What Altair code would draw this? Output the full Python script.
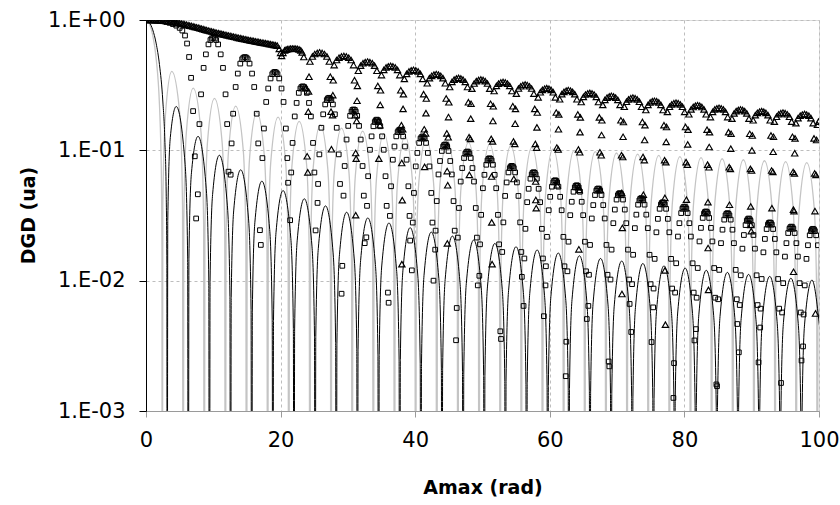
import altair as alt
import pandas as pd

# ---- black curve (thin black line) ----
black_x = [0, 0.5, 1.0, 1.5, 2.0, 2.5, 2.8, 3.0, 3.1,
           3.142, 3.236, 3.613, 4.49, 5.812, 6.189,
           6.283, 6.377, 6.754, 7.73, 8.953, 9.33,
           9.425, 9.519, 9.896, 10.9, 12.095, 12.472,
           12.566, 12.66, 13.037, 14.07, 15.236, 15.613,
           15.708, 15.802, 16.179, 17.22, 18.378, 18.755,
           18.85, 18.944, 19.321, 20.37, 21.52, 21.897,
           21.991, 22.085, 22.462, 23.52, 24.661, 25.038,
           25.133, 25.227, 25.604, 26.67, 27.803, 28.18,
           28.274, 28.368, 28.745, 29.81, 30.944, 31.321,
           31.416, 31.51, 31.887, 32.96, 34.086, 34.463,
           34.558, 34.652, 35.029, 36.1, 37.228, 37.605,
           37.699, 37.793, 38.17, 39.25, 40.369, 40.746,
           40.841, 40.935, 41.312, 42.39, 43.511, 43.888,
           43.982, 44.076, 44.453, 45.53, 46.652, 47.029,
           47.124, 47.218, 47.595, 48.69, 49.794, 50.171,
           50.265, 50.359, 50.736, 51.84, 52.935, 53.312,
           53.407, 53.501, 53.878, 54.98, 56.077, 56.454,
           56.549, 56.643, 57.02, 58.12, 59.219, 59.596,
           59.69, 59.784, 60.161, 61.26, 62.36, 62.737,
           62.832, 62.926, 63.303, 64.4, 65.502, 65.879,
           65.973, 66.067, 66.444, 67.54, 68.643, 69.02,
           69.115, 69.209, 69.586, 70.69, 71.785, 72.162,
           72.257, 72.351, 72.728, 73.83, 74.927, 75.304,
           75.398, 75.492, 75.869, 76.97, 78.068, 78.445,
           78.54, 78.634, 79.011, 80.11, 81.21, 81.587,
           81.681, 81.775, 82.152, 83.25, 84.351, 84.728,
           84.823, 84.917, 85.294, 86.39, 87.493, 87.87,
           87.965, 88.059, 88.436, 89.54, 90.635, 91.012,
           91.106, 91.2, 91.577, 92.68, 93.776, 94.153,
           94.248, 94.342, 94.719, 95.82, 96.918, 97.295,
           97.389, 97.483, 97.86, 98.96, 100.06]
black_y = [1, 0.959, 0.841, 0.665, 0.455, 0.239, 0.120, 0.047, 0.0134,
           1e-6, 0.029, 0.1257, 0.217, 0.0781, 0.0152,
           1e-6, 0.01474, 0.0672, 0.128, 0.0507, 0.01008,
           1e-6, 0.00988, 0.0459, 0.0917, 0.0375, 0.00754,
           1e-6, 0.00742, 0.0348, 0.0709, 0.0298, 0.00602,
           1e-6, 0.00595, 0.0281, 0.058, 0.0247, 0.00501,
           1e-6, 0.00496, 0.0235, 0.0491, 0.0211, 0.00429,
           1e-6, 0.00426, 0.0202, 0.0425, 0.0184, 0.00375,
           1e-6, 0.00373, 0.0177, 0.0375, 0.01633, 0.00334,
           1e-6, 0.00331, 0.0158, 0.0335, 0.01467, 0.003,
           1e-6, 0.00298, 0.01424, 0.0303, 0.01332, 0.00273,
           1e-6, 0.00271, 0.01296, 0.0277, 0.0122, 0.0025,
           1e-6, 0.00249, 0.01189, 0.0255, 0.01125, 0.00231,
           1e-6, 0.0023, 0.01099, 0.0236, 0.01043, 0.00214,
           1e-6, 0.00213, 0.01021, 0.022, 0.00973, 0.002,
           1e-6, 0.00199, 0.00954, 0.0205, 0.00912, 0.00187,
           1e-6, 0.00187, 0.00895, 0.0193, 0.00858, 0.00176,
           1e-6, 0.00176, 0.00843, 0.0182, 0.0081, 0.00167,
           1e-6, 0.00166, 0.00796, 0.0172, 0.00767, 0.00158,
           1e-6, 0.00157, 0.00755, 0.0163, 0.00728, 0.0015,
           1e-6, 0.00149, 0.00717, 0.01553, 0.00693, 0.00143,
           1e-6, 0.00142, 0.00683, 0.01481, 0.00661, 0.00136,
           1e-6, 0.00136, 0.00652, 0.01415, 0.00632, 0.0013,
           1e-6, 0.0013, 0.00624, 0.01354, 0.00606, 0.00125,
           1e-6, 0.00125, 0.00598, 0.01299, 0.00582, 0.0012,
           1e-6, 0.0012, 0.00575, 0.01248, 0.00559, 0.00115,
           1e-6, 0.00115, 0.00553, 0.01201, 0.00538, 0.00111,
           1e-6, 0.00111, 0.00532, 0.01158, 0.00519, 0.00107,
           1e-6, 0.00107, 0.00513, 0.01117, 0.00501, 0.00103,
           1e-6, 0.00103, 0.00496, 0.01079, 0.00484, 0.001,
           1e-6, 0.001, 0.00479, 0.01044, 0.00468, 0.00097,
           1e-6, 0.00097, 0.00464, 0.01011, 0.00454]

# ---- grey curve (thin light grey line) ----
gray_x = [0, 0.5, 1.0, 1.5, 2.0, 2.2, 2.3, 2.37,
          2.405, 2.499, 2.876, 3.832, 5.049, 5.426,
          5.52, 5.614, 5.991, 7.016, 8.183, 8.56,
          8.654, 8.748, 9.125, 10.173, 11.321, 11.698,
          11.792, 11.886, 12.263, 13.324, 14.46, 14.837,
          14.931, 15.025, 15.402, 16.47, 17.6, 17.977,
          18.071, 18.165, 18.542, 19.62, 20.741, 21.118,
          21.212, 21.306, 21.683, 22.76, 23.881, 24.258,
          24.352, 24.446, 24.823, 25.9, 27.022, 27.399,
          27.493, 27.587, 27.964, 29.05, 30.164, 30.541,
          30.635, 30.729, 31.106, 32.19, 33.305, 33.682,
          33.776, 33.87, 34.247, 35.35, 36.447, 36.824,
          36.918, 37.012, 37.389, 38.49, 39.588, 39.965,
          40.059, 40.153, 40.53, 41.63, 42.73, 43.107,
          43.201, 43.295, 43.672, 44.77, 45.872, 46.249,
          46.343, 46.437, 46.814, 47.91, 49.014, 49.391,
          49.485, 49.579, 49.956, 51.06, 52.155, 52.532,
          52.626, 52.72, 53.097, 54.2, 55.297, 55.674,
          55.768, 55.862, 56.239, 57.34, 58.439, 58.816,
          58.91, 59.004, 59.381, 60.48, 61.58, 61.957,
          62.051, 62.145, 62.522, 63.62, 64.722, 65.099,
          65.193, 65.287, 65.664, 66.76, 67.864, 68.241,
          68.335, 68.429, 68.806, 69.91, 71.006, 71.383,
          71.477, 71.571, 71.948, 73.05, 74.147, 74.524,
          74.618, 74.712, 75.089, 76.19, 77.289, 77.666,
          77.76, 77.854, 78.231, 79.33, 80.431, 80.808,
          80.902, 80.996, 81.373, 82.47, 83.572, 83.949,
          84.043, 84.137, 84.514, 85.61, 86.714, 87.091,
          87.185, 87.279, 87.656, 88.76, 89.856, 90.233,
          90.327, 90.421, 90.798, 91.9, 92.998, 93.375,
          93.469, 93.563, 93.94, 95.04, 96.139, 96.516,
          96.61, 96.704, 97.081, 98.18, 99.281, 99.658,
          99.752, 99.846, 100.223]
gray_y = [1, 0.938, 0.765, 0.512, 0.224, 0.110, 0.0555, 0.018,
          1e-6, 0.0379, 0.183, 0.403, 0.183, 0.0379,
          1e-6, 0.0282, 0.136, 0.300, 0.136, 0.0282,
          1e-6, 0.0235, 0.1135, 0.25, 0.1135, 0.0235,
          1e-6, 0.0205, 0.099, 0.218, 0.099, 0.0205,
          1e-6, 0.0184, 0.089, 0.196, 0.089, 0.0184,
          1e-6, 0.0169, 0.0817, 0.18, 0.0817, 0.0169,
          1e-6, 0.0157, 0.0758, 0.167, 0.0758, 0.0157,
          1e-6, 0.01476, 0.0713, 0.157, 0.0713, 0.01476,
          1e-6, 0.0139, 0.0672, 0.148, 0.0672, 0.0139,
          1e-6, 0.01322, 0.0638, 0.1406, 0.0638, 0.01322,
          1e-6, 0.01261, 0.0609, 0.1342, 0.0609, 0.01261,
          1e-6, 0.01209, 0.0584, 0.1286, 0.0584, 0.01209,
          1e-6, 0.01163, 0.0562, 0.1237, 0.0562, 0.01163,
          1e-6, 0.01121, 0.0542, 0.1193, 0.0542, 0.01121,
          1e-6, 0.01084, 0.0523, 0.1153, 0.0523, 0.01084,
          1e-6, 0.0105, 0.0507, 0.1117, 0.0507, 0.0105,
          1e-6, 0.01019, 0.0492, 0.1084, 0.0492, 0.01019,
          1e-6, 0.00991, 0.0479, 0.1054, 0.0479, 0.00991,
          1e-6, 0.00964, 0.0466, 0.1026, 0.0466, 0.00964,
          1e-6, 0.0094, 0.0454, 0.1, 0.0454, 0.0094,
          1e-6, 0.00918, 0.0444, 0.0977, 0.0444, 0.00918,
          1e-6, 0.00897, 0.0433, 0.0954, 0.0433, 0.00897,
          1e-6, 0.00878, 0.0424, 0.0934, 0.0424, 0.00878,
          1e-6, 0.00859, 0.0415, 0.0914, 0.0415, 0.00859,
          1e-6, 0.00842, 0.0407, 0.0896, 0.0407, 0.00842,
          1e-6, 0.00826, 0.0399, 0.0879, 0.0399, 0.00826,
          1e-6, 0.0081, 0.0391, 0.0862, 0.0391, 0.0081,
          1e-6, 0.00796, 0.0385, 0.0847, 0.0385, 0.00796,
          1e-6, 0.00782, 0.0378, 0.0832, 0.0378, 0.00782,
          1e-6, 0.0077, 0.0372, 0.0819, 0.0372, 0.0077,
          1e-6, 0.00757, 0.0365, 0.0805, 0.0365, 0.00757,
          1e-6, 0.00745, 0.036]

# ---- square markers ----
sq_x = [0, 0.5, 1, 1.5, 2, 2.5, 3, 3.5, 4, 4.5, 5, 5.4, 5.8, 6.1, 6.4, 6.7, 7.0, 7.25, 7.45,
        7.7, 8.18, 8.9, 9.57, 10.0, 10.43, 11.1, 11.82, 12.26,
        12.58, 12.95, 13.64, 14.29, 14.7, 15.11, 15.76, 16.45, 16.93,
        17.06, 17.52, 18.16, 18.76, 19.15, 19.54, 20.14, 20.78, 21.11,
        21.42, 21.78, 22.38, 22.94, 23.3, 23.66, 24.22, 24.82, 25.2,
        25.49, 25.76, 26.33, 26.86, 27.2, 27.54, 28.07, 28.64, 29.06,
        29.17, 29.52, 30.05, 30.54, 30.85, 31.17, 31.66, 32.18, 32.5,
        32.74, 33.01, 33.52, 33.99, 34.3, 34.61, 35.08, 35.59, 35.95,
        36.05, 36.41, 36.92, 37.39, 37.7, 38.01, 38.48, 38.99, 39.25,
        39.5, 39.81, 40.32, 40.79, 41.1, 41.41, 41.88, 42.39, 42.72,
        42.97, 43.2, 43.69, 44.15, 44.45, 44.75, 45.21, 45.7, 46.07,
        46.17, 46.5, 46.99, 47.45, 47.75, 48.05, 48.51, 49.0, 49.3,
        49.53, 49.8, 50.29, 50.75, 51.05, 51.35, 51.81, 52.3, 52.65,
        52.75, 53.1, 53.59, 54.05, 54.35, 54.65, 55.11, 55.6, 55.85,
        56.1, 56.38, 56.86, 57.31, 57.6, 57.89, 58.34, 58.82, 59.12,
        59.36, 59.58, 60.06, 60.51, 60.8, 61.09, 61.54, 62.02, 62.37,
        62.46, 62.78, 63.26, 63.71, 64.0, 64.29, 64.74, 65.22, 65.5,
        65.73, 65.98, 66.46, 66.91, 67.2, 67.49, 67.94, 68.42, 68.75,
        68.85, 69.18, 69.66, 70.11, 70.4, 70.69, 71.14, 71.62, 71.86,
        72.1, 72.38, 72.86, 73.31, 73.6, 73.89, 74.34, 74.82, 75.12,
        75.36, 75.58, 76.06, 76.51, 76.8, 77.09, 77.54, 78.02, 78.37,
        78.46, 78.78, 79.26, 79.71, 80.0, 80.29, 80.74, 81.22, 81.5,
        81.73, 81.98, 82.46, 82.91, 83.2, 83.49, 83.94, 84.42, 84.75,
        84.85, 85.18, 85.66, 86.11, 86.4, 86.69, 87.14, 87.62, 87.86,
        88.09, 88.37, 88.84, 89.27, 89.55, 89.83, 90.26, 90.73, 91.02,
        91.26, 91.48, 91.96, 92.41, 92.7, 92.99, 93.44, 93.92, 94.27,
        94.36, 94.68, 95.16, 95.61, 95.9, 96.19, 96.64, 97.12, 97.4,
        97.63, 97.88, 98.36, 98.81, 99.1, 99.39, 99.84]
sq_y = [1, 0.999, 0.997, 0.993, 0.987, 0.978, 0.966, 0.95, 0.93, 0.905, 0.87, 0.83, 0.76, 0.66, 0.52, 0.36, 0.2, 0.09, 0.03,
        0.046, 0.269, 0.545, 0.702, 0.73, 0.702, 0.545, 0.269, 0.0686,
        0.065, 0.191, 0.388, 0.5, 0.52, 0.5, 0.388, 0.191, 0.0244,
        0.0188, 0.147, 0.298, 0.384, 0.4, 0.384, 0.298, 0.147, 0.0564,
        0.0291, 0.114, 0.231, 0.298, 0.31, 0.298, 0.231, 0.114, 0.0243,
        0.0395, 0.0931, 0.189, 0.243, 0.253, 0.243, 0.189, 0.0931, 0.00794,
        0.013, 0.0758, 0.154, 0.198, 0.206, 0.198, 0.154, 0.0758, 0.0194,
        0.0215, 0.0633, 0.128, 0.165, 0.172, 0.165, 0.128, 0.0633, 0.0081,
        0.00677, 0.053, 0.107, 0.138, 0.144, 0.138, 0.107, 0.053, 0.0203,
        0.012, 0.0471, 0.0955, 0.123, 0.128, 0.123, 0.0955, 0.0471, 0.01,
        0.0173, 0.0408, 0.0828, 0.1067, 0.111, 0.1067, 0.0828, 0.0408, 0.00349,
        0.00617, 0.0361, 0.0731, 0.0942, 0.098, 0.0942, 0.0731, 0.0361, 0.0092,
        0.0109, 0.032, 0.0649, 0.0836, 0.087, 0.0836, 0.0649, 0.032, 0.00409,
        0.00357, 0.028, 0.0567, 0.073, 0.076, 0.073, 0.0567, 0.028, 0.0107,
        0.0064, 0.025, 0.0507, 0.0653, 0.068, 0.0653, 0.0507, 0.025, 0.00534,
        0.0092, 0.0217, 0.044, 0.0567, 0.059, 0.0567, 0.044, 0.0217, 0.00185,
        0.0034, 0.0199, 0.0403, 0.0519, 0.054, 0.0519, 0.0403, 0.0199, 0.00508,
        0.0064, 0.0188, 0.038, 0.049, 0.051, 0.049, 0.038, 0.0188, 0.0024,
        0.0022, 0.0173, 0.0351, 0.0452, 0.047, 0.0452, 0.0351, 0.0173, 0.00663,
        0.00404, 0.0158, 0.0321, 0.0413, 0.043, 0.0413, 0.0321, 0.0158, 0.00338,
        0.00624, 0.0147, 0.0298, 0.0384, 0.04, 0.0384, 0.0298, 0.0147, 0.00126,
        0.00233, 0.0136, 0.0276, 0.0356, 0.037, 0.0356, 0.0276, 0.0136, 0.00348,
        0.00425, 0.0125, 0.0254, 0.0327, 0.034, 0.0327, 0.0254, 0.0125, 0.0016,
        0.00155, 0.0121, 0.0246, 0.0317, 0.033, 0.0317, 0.0246, 0.0121, 0.00465,
        0.00282, 0.011, 0.0224, 0.0288, 0.03, 0.0288, 0.0224, 0.011, 0.00236,
        0.00437, 0.0103, 0.0209, 0.0269, 0.028, 0.0269, 0.0209, 0.0103, 0.00088,
        0.00164, 0.00957, 0.0194, 0.025, 0.026, 0.025, 0.0194, 0.00957, 0.00244,
        0.00313, 0.0092, 0.0187, 0.024, 0.025, 0.024, 0.0187]

# extra square readings near the tops of the square arches
sq_cap_x = [8.56, 9.28, 9.76, 10.24, 10.72, 11.44,
            13.32, 14.01, 14.47, 14.93, 15.39, 16.08,
            17.86, 18.51, 18.94, 19.37, 19.8, 20.44,
            22.1, 22.7, 23.1, 23.5, 23.9, 24.5,
            26.06, 26.63, 27.01, 27.39, 27.77, 28.34,
            29.8, 30.33, 30.68, 31.03, 31.38, 31.9,
            33.28, 33.79, 34.13, 34.47, 34.81, 35.32,
            36.68, 37.19, 37.53, 37.87, 38.21, 38.72,
            40.08, 40.59, 40.93, 41.27, 41.61, 42.12,
            43.46, 43.96, 44.29, 44.62, 44.95, 45.44,
            46.76, 47.26, 47.59, 47.92, 48.25, 48.74,
            50.06, 50.56, 50.89, 51.22, 51.55, 52.04,
            53.36, 53.86, 54.19, 54.52, 54.85, 55.34,
            56.64, 57.12, 57.44, 57.76, 58.08, 58.56,
            59.84, 60.32, 60.64, 60.96, 61.28, 61.76,
            63.04, 63.52, 63.84, 64.16, 64.48, 64.96,
            66.24, 66.72, 67.04, 67.36, 67.68, 68.16,
            69.44, 69.92, 70.24, 70.56, 70.88, 71.36,
            72.64, 73.12, 73.44, 73.76, 74.08, 74.56,
            75.84, 76.32, 76.64, 76.96, 77.28, 77.76,
            79.04, 79.52, 79.84, 80.16, 80.48, 80.96,
            82.24, 82.72, 83.04, 83.36, 83.68, 84.16,
            85.44, 85.92, 86.24, 86.56, 86.88, 87.36,
            88.62, 89.09, 89.4, 89.71, 90.02, 90.48,
            91.74, 92.22, 92.54, 92.86, 93.18, 93.66,
            94.94, 95.42, 95.74, 96.06, 96.38, 96.86,
            98.14, 98.62, 98.94, 99.26, 99.58]
sq_cap_y = [0.429, 0.65, 0.721, 0.721, 0.65, 0.429,
            0.306, 0.463, 0.514, 0.514, 0.463, 0.306,
            0.235, 0.356, 0.395, 0.395, 0.356, 0.235,
            0.182, 0.276, 0.306, 0.306, 0.276, 0.182,
            0.149, 0.225, 0.25, 0.25, 0.225, 0.149,
            0.121, 0.184, 0.204, 0.204, 0.184, 0.121,
            0.101, 0.153, 0.17, 0.17, 0.153, 0.101,
            0.0847, 0.128, 0.142, 0.142, 0.128, 0.0847,
            0.0753, 0.114, 0.126, 0.126, 0.114, 0.0753,
            0.0653, 0.0989, 0.1097, 0.1097, 0.0989, 0.0653,
            0.0576, 0.0873, 0.0968, 0.0968, 0.0873, 0.0576,
            0.0512, 0.0775, 0.086, 0.086, 0.0775, 0.0512,
            0.0447, 0.0677, 0.0751, 0.0751, 0.0677, 0.0447,
            0.04, 0.0606, 0.0672, 0.0672, 0.0606, 0.04,
            0.0347, 0.0526, 0.0583, 0.0583, 0.0526, 0.0347,
            0.0318, 0.0481, 0.0534, 0.0534, 0.0481, 0.0318,
            0.03, 0.0454, 0.0504, 0.0504, 0.0454, 0.03,
            0.0276, 0.0419, 0.0464, 0.0464, 0.0419, 0.0276,
            0.0253, 0.0383, 0.0425, 0.0425, 0.0383, 0.0253,
            0.0235, 0.0356, 0.0395, 0.0395, 0.0356, 0.0235,
            0.0218, 0.033, 0.0366, 0.0366, 0.033, 0.0218,
            0.02, 0.0303, 0.0336, 0.0336, 0.0303, 0.02,
            0.0194, 0.0294, 0.0326, 0.0326, 0.0294, 0.0194,
            0.0176, 0.0267, 0.0296, 0.0296, 0.0267, 0.0176,
            0.0165, 0.0249, 0.0277, 0.0277, 0.0249, 0.0165,
            0.0153, 0.0232, 0.0257, 0.0257, 0.0232, 0.0153,
            0.0147, 0.0223, 0.0247, 0.0247, 0.0223]

# extra square readings in the dips
sq_dip_x = [7.94, 12.06, 12.72, 16.68, 17.3, 21.0, 21.58, 25.02, 25.57, 28.83,
            29.35, 32.36, 32.84, 35.76, 36.24, 39.16, 39.64, 42.56, 43.03, 45.87,
            46.33, 49.17, 49.63, 52.47, 52.93, 55.77, 56.22, 58.98, 59.42, 62.18,
            62.62, 65.38, 65.82, 68.58, 69.02, 71.78, 72.22, 74.98, 75.42, 78.18,
            78.62, 81.38, 81.82, 84.58, 85.02, 87.78, 88.22, 90.88, 91.32, 94.08,
            94.52, 97.28, 97.72]
sq_dip_y = [0.159, 0.159, 0.113, 0.113, 0.0872, 0.0872, 0.0676, 0.0676, 0.0552, 0.0552,
            0.0449, 0.0449, 0.0375, 0.0375, 0.0314, 0.0314, 0.0279, 0.0279, 0.0242, 0.0242,
            0.0214, 0.0214, 0.019, 0.019, 0.0166, 0.0166, 0.0148, 0.0148, 0.0129, 0.0129,
            0.0118, 0.0118, 0.0111, 0.0111, 0.0102, 0.0102, 0.0094, 0.0094, 0.0087, 0.0087,
            0.0081, 0.0081, 0.0074, 0.0074, 0.0072, 0.0072, 0.0065, 0.0065, 0.0061, 0.0061,
            0.0057, 0.0057, 0.0055]

# ---- triangle markers: smooth upper band (x < 24) ----
tri_x = [0, 0.5, 1, 1.5, 2, 2.5, 3, 3.5, 4, 4.5, 5, 5.5, 6, 6.5, 7, 7.5, 8, 8.5, 9, 9.5,
         10, 10.5, 11, 11.5, 12, 12.5, 13, 13.5, 14, 14.5, 15, 15.5, 16, 16.5, 17, 17.5, 18, 18.5, 19, 19.5,
         19.8, 20.0, 20.15, 20.35, 20.6, 21.0, 21.5, 22.0, 22.5, 23.0, 23.45, 23.75, 23.95]
tri_y = [1.0, 1.0, 0.999, 0.997, 0.995, 0.99, 0.984, 0.975, 0.965, 0.955, 0.944, 0.932, 0.92, 0.906, 0.893,
         0.879, 0.865, 0.851, 0.837, 0.823, 0.81, 0.798, 0.787, 0.776, 0.765, 0.755, 0.745, 0.735, 0.725,
         0.716, 0.707, 0.698, 0.69, 0.682, 0.674, 0.667, 0.66, 0.652, 0.645, 0.635,
         0.6, 0.56, 0.53, 0.56, 0.585, 0.598, 0.603, 0.604, 0.6, 0.585, 0.52, 0.3, 0.09]

tri_band_x = [0.25, 0.75, 1.25, 1.75, 2.25, 2.75, 3.25, 3.75, 4.25, 4.75, 5.25, 5.75, 6.25,
              6.75, 7.25, 7.75, 8.25, 8.75, 9.25, 9.75, 10.25, 10.75, 11.25, 11.75, 12.25,
              12.75, 13.25, 13.75, 14.25, 14.75, 15.25, 15.75, 16.25, 16.75, 17.25, 17.75,
              18.25, 18.75, 19.25, 20.8, 21.25, 21.75, 22.25, 22.75, 23.2]
tri_band_y = [1.0, 0.9995, 0.998, 0.996, 0.9925, 0.987, 0.98, 0.97, 0.96, 0.95, 0.938, 0.926,
              0.913, 0.9, 0.886, 0.872, 0.858, 0.844, 0.83, 0.816, 0.804, 0.792, 0.781, 0.77,
              0.76, 0.75, 0.74, 0.73, 0.72, 0.711, 0.702, 0.694, 0.686, 0.678, 0.67, 0.663,
              0.656, 0.648, 0.64, 0.592, 0.6, 0.604, 0.602, 0.594, 0.565]

# ---- triangle markers: scalloped arches (x > 24) ----
tri_arch_x = [24.04, 24.11, 24.22, 24.36, 24.72, 25.08, 25.44, 25.8, 26.16, 26.52, 26.88, 27.24, 27.38, 27.49,
              27.71, 27.82, 27.96, 28.32, 28.68, 29.04, 29.4, 29.76, 30.12, 30.48, 30.84, 30.98, 31.09, 31.16,
              31.23, 31.3, 31.41, 31.55, 31.89, 32.24, 32.58, 32.93, 33.27, 33.62, 33.96, 34.31, 34.44, 34.55,
              34.75, 34.85, 34.99, 35.33, 35.67, 36.01, 36.35, 36.69, 37.03, 37.37, 37.71, 37.85, 37.95, 38.02,
              38.08, 38.15, 38.25, 38.39, 38.73, 39.07, 39.41, 39.75, 40.09, 40.43, 40.77, 41.11, 41.25, 41.35,
              41.55, 41.65, 41.79, 42.12, 42.46, 42.79, 43.13, 43.46, 43.8, 44.13, 44.47, 44.6, 44.7, 44.77,
              44.83, 44.9, 45.0, 45.13, 45.46, 45.79, 46.12, 46.45, 46.78, 47.11, 47.44, 47.77, 47.9, 48.0,
              48.2, 48.3, 48.43, 48.76, 49.09, 49.42, 49.75, 50.08, 50.41, 50.74, 51.07, 51.2, 51.3, 51.37,
              51.43, 51.5, 51.6, 51.73, 52.06, 52.39, 52.72, 53.05, 53.38, 53.71, 54.04, 54.37, 54.5, 54.6,
              54.8, 54.9, 55.03, 55.35, 55.68, 56.0, 56.33, 56.65, 56.98, 57.3, 57.63, 57.76, 57.85, 57.92,
              57.98, 58.05, 58.14, 58.27, 58.59, 58.91, 59.23, 59.55, 59.87, 60.19, 60.51, 60.83, 60.96, 61.05,
              61.25, 61.34, 61.47, 61.79, 62.11, 62.43, 62.75, 63.07, 63.39, 63.71, 64.03, 64.16, 64.25, 64.32,
              64.38, 64.45, 64.54, 64.67, 64.99, 65.31, 65.63, 65.95, 66.27, 66.59, 66.91, 67.23, 67.36, 67.45,
              67.65, 67.74, 67.87, 68.19, 68.51, 68.83, 69.15, 69.47, 69.79, 70.11, 70.43, 70.56, 70.65, 70.72,
              70.78, 70.85, 70.94, 71.07, 71.39, 71.71, 72.03, 72.35, 72.67, 72.99, 73.31, 73.63, 73.76, 73.85,
              74.05, 74.14, 74.27, 74.59, 74.91, 75.23, 75.55, 75.87, 76.19, 76.51, 76.83, 76.96, 77.05, 77.12,
              77.18, 77.25, 77.34, 77.47, 77.79, 78.11, 78.43, 78.75, 79.07, 79.39, 79.71, 80.03, 80.16, 80.25,
              80.45, 80.54, 80.67, 80.99, 81.31, 81.63, 81.95, 82.27, 82.59, 82.91, 83.23, 83.36, 83.45, 83.52,
              83.58, 83.65, 83.74, 83.87, 84.19, 84.51, 84.83, 85.15, 85.47, 85.79, 86.11, 86.43, 86.56, 86.65,
              86.84, 86.94, 87.07, 87.38, 87.7, 88.01, 88.33, 88.64, 88.96, 89.27, 89.59, 89.71, 89.81, 89.87,
              89.93, 89.99, 90.09, 90.22, 90.53, 90.85, 91.16, 91.48, 91.79, 92.11, 92.42, 92.74, 92.86, 92.96,
              93.15, 93.24, 93.37, 93.69, 94.01, 94.33, 94.65, 94.97, 95.29, 95.61, 95.93, 96.06, 96.15, 96.22,
              96.28, 96.35, 96.44, 96.57, 96.89, 97.21, 97.53, 97.85, 98.17, 98.49, 98.81, 99.13, 99.26, 99.35,
              99.48, 99.55, 99.64, 99.77, 99.93]
tri_arch_y = [0.0678, 0.198, 0.367, 0.48, 0.525, 0.548, 0.559, 0.565, 0.559, 0.548, 0.525, 0.48, 0.367, 0.198,
              0.186, 0.345, 0.451, 0.493, 0.514, 0.525, 0.53, 0.525, 0.514, 0.493, 0.451, 0.345, 0.186, 0.0318,
              0.0864, 0.168, 0.312, 0.408, 0.446, 0.466, 0.475, 0.48, 0.475, 0.466, 0.446, 0.408, 0.312, 0.168,
              0.156, 0.289, 0.378, 0.414, 0.432, 0.441, 0.445, 0.441, 0.432, 0.414, 0.378, 0.289, 0.156, 0.0134,
              0.0415, 0.145, 0.27, 0.353, 0.386, 0.403, 0.411, 0.415, 0.411, 0.403, 0.386, 0.353, 0.27, 0.145,
              0.135, 0.25, 0.327, 0.358, 0.373, 0.381, 0.385, 0.381, 0.373, 0.358, 0.327, 0.25, 0.135, 0.0193,
              0.054, 0.126, 0.234, 0.306, 0.335, 0.349, 0.356, 0.36, 0.356, 0.349, 0.335, 0.306, 0.234, 0.126,
              0.1225, 0.2275, 0.2975, 0.3255, 0.3395, 0.3465, 0.35, 0.3465, 0.3395, 0.3255, 0.2975, 0.2275, 0.1225, 0.028,
              0.0134, 0.117, 0.218, 0.285, 0.312, 0.325, 0.332, 0.335, 0.332, 0.325, 0.312, 0.285, 0.218, 0.117,
              0.112, 0.208, 0.272, 0.298, 0.31, 0.317, 0.32, 0.317, 0.31, 0.298, 0.272, 0.208, 0.112, 0.0416,
              0.036, 0.105, 0.195, 0.255, 0.279, 0.291, 0.297, 0.3, 0.297, 0.291, 0.279, 0.255, 0.195, 0.105,
              0.1015, 0.1885, 0.2465, 0.27, 0.281, 0.287, 0.29, 0.287, 0.281, 0.27, 0.2465, 0.1885, 0.1015, 0.0174,
              0.0497, 0.0966, 0.179, 0.235, 0.257, 0.268, 0.273, 0.276, 0.273, 0.268, 0.257, 0.235, 0.179, 0.0966,
              0.0917, 0.17, 0.223, 0.244, 0.254, 0.259, 0.262, 0.259, 0.254, 0.244, 0.223, 0.17, 0.0917, 0.0079,
              0.0254, 0.0889, 0.165, 0.216, 0.236, 0.246, 0.251, 0.254, 0.251, 0.246, 0.236, 0.216, 0.165, 0.0889,
              0.084, 0.156, 0.204, 0.223, 0.233, 0.238, 0.24, 0.238, 0.233, 0.223, 0.204, 0.156, 0.084, 0.012,
              0.0046, 0.0812, 0.151, 0.197, 0.216, 0.225, 0.23, 0.232, 0.23, 0.225, 0.216, 0.197, 0.151, 0.0812,
              0.0777, 0.144, 0.189, 0.206, 0.215, 0.22, 0.222, 0.22, 0.215, 0.206, 0.189, 0.144, 0.0777, 0.0178,
              0.0085, 0.0742, 0.138, 0.18, 0.197, 0.206, 0.21, 0.212, 0.21, 0.206, 0.197, 0.18, 0.138, 0.0742,
              0.0721, 0.134, 0.175, 0.192, 0.2, 0.204, 0.206, 0.204, 0.2, 0.192, 0.175, 0.134, 0.0721, 0.0268,
              0.024, 0.07, 0.13, 0.17, 0.186, 0.194, 0.198, 0.2, 0.198, 0.194, 0.186, 0.17, 0.13, 0.07,
              0.0683, 0.127, 0.166, 0.181, 0.189, 0.193, 0.195, 0.193, 0.189, 0.181, 0.166, 0.127, 0.0683, 0.0117,
              0.0342, 0.0665, 0.1235, 0.1615, 0.1767, 0.1843, 0.1881, 0.19, 0.1881, 0.1843, 0.1767, 0.1615, 0.1235, 0.0665,
              0.0056, 0.0648, 0.12, 0.157, 0.166]

# extra triangle readings scattered in the dips
tri_dip_x = [24.16, 27.55, 27.76, 31.15, 31.36, 34.6, 34.8, 38.0, 38.2, 41.4,
             41.6, 44.75, 44.95, 48.05, 48.25, 51.35, 51.55, 54.65, 54.85, 57.9,
             58.09, 61.1, 61.29, 64.3, 64.49, 67.5, 67.69, 70.7, 70.89, 73.9,
             74.09, 77.1, 77.29, 80.3, 80.49, 83.5, 83.69, 86.7, 86.89, 89.85,
             90.04, 93.0, 93.19, 96.2, 96.39, 99.4]
tri_dip_y = [0.283, 0.102, 0.265, 0.0954, 0.24, 0.0864, 0.223, 0.08, 0.208, 0.0747,
             0.193, 0.0693, 0.18, 0.0648, 0.175, 0.063, 0.168, 0.0603, 0.16, 0.0576,
             0.15, 0.054, 0.145, 0.0522, 0.138, 0.0497, 0.131, 0.0472, 0.127, 0.0457,
             0.12, 0.0432, 0.116, 0.0418, 0.111, 0.04, 0.106, 0.0382, 0.103, 0.0371,
             0.1, 0.036, 0.0975, 0.0351, 0.095, 0.0342]

x_ticks = [0, 20, 40, 60, 80, 100]
y_ticks = [0.001, 0.01, 0.1, 1]

FONT = "DejaVu Sans"

x_scale = alt.Scale(domain=[0, 100], nice=False, zero=False)
y_scale = alt.Scale(type="log", domain=[0.001, 1], nice=False)

x_axis = alt.Axis(values=x_ticks, title="Amax (rad)", grid=True, gridDash=[3, 3],
                  gridColor="#bdbdbd", gridWidth=1, domainColor="#9a9a9a", tickColor="#9a9a9a",
                  tickSize=6, labelPadding=12, labelFont=FONT, labelFontSize=21, labelFlush=False,
                  labelColor="black", titleFont=FONT, titleFontSize=19, titleFontWeight="bold",
                  titleColor="black", titleY=76, titleBaseline="middle")
y_axis = alt.Axis(values=y_ticks, title="DGD (ua)", grid=True, gridDash=[3, 3],
                  gridColor="#bdbdbd", gridWidth=1, domainColor="black", tickColor="black",
                  tickSize=7, labelPadding=14, labelFont=FONT, labelFontSize=21, labelFlush=False,
                  labelColor="black",
                  labelExpr="datum.value >= 0.5 ? '1.E+00' : datum.value >= 0.05 ? '1.E-01' : datum.value >= 0.005 ? '1.E-02' : '1.E-03'",
                  titleFont=FONT, titleFontSize=19, titleFontWeight="bold", titleColor="black",
                  titleX=-118, titleY=195, titleAngle=270, titleAlign="center",
                  titleBaseline="middle")


def enc(chart):
    return chart.encode(
        x=alt.X("x:Q", scale=x_scale, axis=x_axis),
        y=alt.Y("y:Q", scale=y_scale, axis=y_axis),
    )


sq_df = pd.DataFrame({"x": sq_x + sq_cap_x + sq_dip_x, "y": sq_y + sq_cap_y + sq_dip_y})
tri_df = pd.DataFrame({"x": tri_x + tri_band_x + tri_arch_x + tri_dip_x,
                       "y": tri_y + tri_band_y + tri_arch_y + tri_dip_y})

gray = enc(alt.Chart(pd.DataFrame({"x": gray_x, "y": gray_y})).mark_line(
    color="#c4c4c4", strokeWidth=1.3, interpolate="monotone", clip=True))
black = enc(alt.Chart(pd.DataFrame({"x": black_x, "y": black_y})).mark_line(
    color="black", strokeWidth=1, interpolate="monotone", clip=True))
squares = enc(alt.Chart(sq_df).mark_point(
    shape="square", filled=False, color="black", size=22, strokeWidth=1, opacity=1, clip=True))
triangles = enc(alt.Chart(tri_df).mark_point(
    shape="triangle-up", filled=False, color="black", size=40, strokeWidth=1.15, opacity=1, clip=True))

chart = alt.layer(gray, black, squares, triangles).properties(
    width=673, height=391,
    padding={"left": 146, "top": 20, "right": 21, "bottom": 94},
    autosize=alt.AutoSizeParams(type="none"),
    background="white",
).configure_view(stroke="#9a9a9a", strokeWidth=1).configure(font=FONT)

chart.save("out.html", embed_options={"renderer": "svg", "actions": False})
